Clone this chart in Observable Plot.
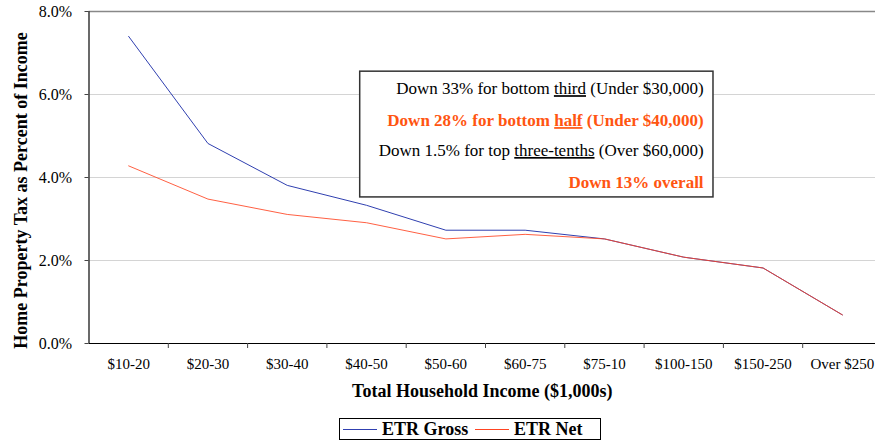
<!DOCTYPE html>
<html>
<head>
<meta charset="utf-8">
<script src="https://cdn.jsdelivr.net/npm/d3@7"></script>
<script src="https://cdn.jsdelivr.net/npm/@observablehq/plot@0.6"></script>
<style>
  body { margin: 0; background: #fff; overflow: hidden; font-family: "Liberation Serif", serif; }
  #legend { position: relative; margin-left: 339px; margin-top: 8px; width: 262px; height: 22px; border: 1px solid #000;
            display: flex; align-items: center; font-weight: bold; font-size: 18px; box-sizing: border-box; white-space: nowrap; line-height: 1; }
  #legend .sw { display: inline-block; flex: none; width: 34px; height: 0; border-top: 1.2px solid; margin: 0 5px 0 3px; }
  #legend span.lab { flex: none; width: 90px; }
</style>
</head>
<body>
<div id="chart"></div>
<div id="legend"></div>
<script>
const categories = ["$10-20", "$20-30", "$30-40", "$40-50", "$50-60", "$60-75", "$75-10", "$100-150", "$150-250", "Over $250"];
const etrGross = [7.40, 4.82, 3.81, 3.33, 2.73, 2.73, 2.52, 2.08, 1.82, 0.69];
const etrNet   = [4.28, 3.48, 3.11, 2.91, 2.52, 2.63, 2.52, 2.08, 1.82, 0.69];
const yTicks = [0, 2, 4, 6, 8];
const notes = [
  {pre: "Down 33% for bottom ", u: "third", post: " (Under $30,000)", bold: false, y: 6.14},
  {pre: "Down 28% for bottom ", u: "half", post: " (Under $40,000)", bold: true, y: 5.37},
  {pre: "Down 1.5% for top ", u: "three-tenths", post: " (Over $60,000)", bold: false, y: 4.65},
  {pre: "Down 13% overall", u: "", post: "", bold: true, y: 3.88}
];
const grossColor = "#3040b0";
const netColor = "#ff4422";
const accent = "#ff5511";

const gross = categories.map((c, i) => ({i, v: etrGross[i]}));
const net = categories.map((c, i) => ({i, v: etrNet[i]}));
const centers = categories.map((c, i) => i);
const bounds = categories.map((c, i) => i + 0.5);
const noteText = d => d.pre + d.u + d.post;

const plot = Plot.plot({
  width: 875,
  height: 410,
  marginTop: 11,
  marginBottom: 67,
  marginLeft: 88.5,
  marginRight: 0,
  style: {fontFamily: "Liberation Serif, serif", background: "#fff", color: "#000"},
  x: {domain: [-0.5, 9.5], range: [88.5, 881.5]},
  y: {domain: [0, 8]},
  marks: [
    Plot.ruleY([2, 4, 6], {stroke: "#d4d4d4", strokeWidth: 1.2}),
    Plot.ruleY([8], {stroke: "#888", strokeWidth: 1.5}),
    Plot.ruleY([0], {stroke: "#000", strokeWidth: 1.2}),
    Plot.ruleX([-0.5], {stroke: "#444", strokeWidth: 1.6}),
    Plot.axisY({ticks: yTicks, tickFormat: d => d.toFixed(1) + "%", tickSize: 4, tickPadding: 13, fontSize: 16, label: null, stroke: "#444"}),
    Plot.axisX({ticks: bounds, tickFormat: () => "", tickSize: 5, label: null, stroke: "#444"}),
    Plot.axisX({ticks: centers, tickFormat: i => categories[i], tickSize: 0, tickPadding: 15, fontSize: 15, label: null}),
    Plot.text(["Total Household Income ($1,000s)"], {frameAnchor: "bottom", dy: 53, fontWeight: "bold", fontSize: 18}),
    Plot.text(["Home Property Tax as Percent of Income"], {frameAnchor: "left", textAnchor: "middle", dx: -68, dy: 13, rotate: -90, fontWeight: "bold", fontSize: 18}),
    Plot.rect([{x1: 2.92, x2: 7.375, y1: 3.52, y2: 6.55}], {x1: "x1", x2: "x2", y1: "y1", y2: "y2", fill: "#fff", stroke: "#333", strokeWidth: 1.5}),
    Plot.text(notes.filter(d => !d.bold), {x: 7.25, y: "y", text: noteText, textAnchor: "end", fontSize: 17, fill: "#000"}),
    Plot.text(notes.filter(d => d.bold), {x: 7.25, y: "y", text: noteText, textAnchor: "end", fontSize: 17, fill: accent, fontWeight: "bold"}),
    Plot.line(gross, {x: "i", y: "v", stroke: grossColor, strokeWidth: 1}),
    Plot.line(net, {x: "i", y: "v", stroke: netColor, strokeWidth: 1, strokeOpacity: 0.85})
  ]
});
document.getElementById("chart").appendChild(plot);

// underline the key words in the annotation
d3.select(plot).selectAll("text").each(function() {
  const el = this;
  const n = notes.find(d => d.u && el.textContent === noteText(d));
  if (!n) return;
  const t = d3.select(el);
  t.text(null);
  t.append("tspan").text(n.pre);
  t.append("tspan").attr("text-decoration", "underline").text(n.u);
  t.append("tspan").text(n.post);
});

const legend = document.getElementById("legend");
[["ETR Gross", grossColor], ["ETR Net", netColor]].forEach(([name, col]) => {
  const sw = document.createElement("span");
  sw.className = "sw"; sw.style.borderTopColor = col;
  const lab = document.createElement("span");
  lab.className = "lab"; lab.textContent = name;
  legend.appendChild(sw); legend.appendChild(lab);
});
</script>
</body>
</html>
